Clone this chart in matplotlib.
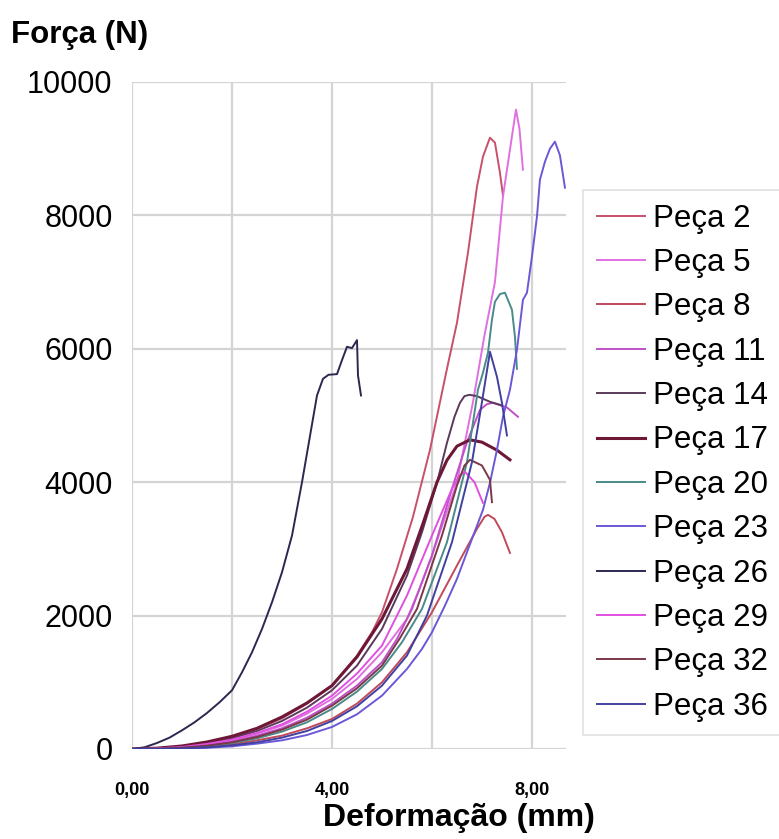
import matplotlib.pyplot as plt
from matplotlib.ticker import FixedLocator

plt.rcParams['font.family'] = ['Liberation Sans', 'DejaVu Sans']

# deformation (mm) / force (N), one pair per specimen
p2_x = [0, 0.5, 1, 1.5, 2, 2.5, 3, 3.5, 4, 4.5, 4.8, 5.0, 5.3, 5.62, 5.96, 6.3, 6.5, 6.72, 6.9, 7.02, 7.16, 7.26, 7.36, 7.42]
p2_f = [0, 10, 40, 100, 190, 300, 460, 680, 950, 1400, 1750, 2050, 2700, 3480, 4485, 5700, 6390, 7440, 8430, 8880, 9165, 9090, 8640, 8300]

p5_x = [0, 0.5, 1, 1.5, 2, 2.5, 3, 3.5, 4, 4.5, 5, 5.5, 5.75, 6.0, 6.25, 6.5, 6.82, 7.05, 7.26, 7.42, 7.56, 7.68, 7.75, 7.82]
p5_f = [0, 5, 25, 70, 130, 230, 350, 530, 750, 1050, 1450, 1950, 2400, 2900, 3450, 4000, 5200, 6200, 7000, 8280, 8985, 9585, 9300, 8685]

p8_x = [0, 0.5, 1, 1.5, 2, 2.5, 3, 3.5, 4, 4.5, 5, 5.5, 6.0, 6.5, 6.9, 7.05, 7.12, 7.25, 7.4, 7.56]
p8_f = [0, 2, 10, 35, 70, 130, 200, 310, 450, 680, 1000, 1450, 2050, 2750, 3300, 3480, 3510, 3450, 3250, 2940]

p11_x = [0, 0.5, 1, 1.5, 2, 2.5, 3, 3.5, 4, 4.5, 5, 5.3, 5.6, 6.0, 6.4, 6.7, 6.96, 7.1, 7.22, 7.5, 7.72]
p11_f = [0, 5, 20, 55, 110, 200, 310, 470, 680, 950, 1300, 1650, 2100, 2900, 3900, 4600, 5085, 5170, 5190, 5120, 4980]

p14_x = [0, 0.5, 1, 1.5, 2, 2.5, 3, 3.5, 4, 4.5, 5, 5.5, 5.8, 6.1, 6.3, 6.45, 6.56, 6.65, 6.75, 6.9, 7.16, 7.4]
p14_f = [0, 10, 35, 85, 160, 270, 420, 620, 880, 1250, 1800, 2600, 3250, 3990, 4590, 4980, 5190, 5290, 5310, 5290, 5205, 5150]

p17_x = [0, 0.5, 1, 1.5, 2, 2.5, 3, 3.5, 4, 4.5, 5, 5.5, 5.82, 6.1, 6.3, 6.5, 6.76, 7.0, 7.3, 7.56]
p17_f = [0, 12, 45, 105, 190, 310, 480, 690, 950, 1380, 1950, 2700, 3380, 4000, 4330, 4540, 4635, 4600, 4480, 4335]

p20_x = [0, 0.5, 1, 1.5, 2, 2.5, 3, 3.5, 4, 4.5, 5, 5.4, 5.8, 6.3, 6.7, 6.92, 7.02, 7.12, 7.2, 7.26, 7.36, 7.46, 7.6, 7.66, 7.7]
p20_f = [0, 3, 15, 45, 90, 160, 260, 400, 600, 860, 1200, 1600, 2100, 3100, 4300, 5385, 5640, 5940, 6435, 6705, 6820, 6840, 6585, 6180, 5700]

p23_x = [0, 0.5, 1, 1.5, 2, 2.5, 3, 3.5, 4, 4.5, 5, 5.5, 5.8, 6.0, 6.26, 6.5, 6.7, 7.02, 7.16, 7.3, 7.42, 7.56,
         7.7, 7.82, 7.9, 8.0, 8.1, 8.16, 8.26, 8.36, 8.46, 8.56, 8.66]
p23_f = [0, 1, 5, 18, 40, 80, 130, 210, 330, 520, 800, 1200, 1500, 1750, 2150, 2550, 2950, 3585, 3990, 4485, 4980, 5385,
         5985, 6735, 6840, 7380, 7980, 8535, 8805, 9000, 9105, 8900, 8415]

p26_x = [0, 0.25, 0.5, 0.75, 1.0, 1.25, 1.5, 1.75, 2.0, 2.2, 2.4, 2.6, 2.8, 3.0, 3.2, 3.4, 3.55, 3.7, 3.82,
         3.93, 4.1, 4.2, 4.3, 4.4, 4.5, 4.52, 4.58]
p26_f = [0, 25, 90, 170, 280, 400, 540, 700, 880, 1150, 1450, 1800, 2200, 2650, 3200, 4000, 4650, 5300, 5550,
         5610, 5620, 5830, 6030, 6010, 6130, 5600, 5300]

p29_x = [0, 0.5, 1, 1.5, 2, 2.5, 3, 3.5, 4, 4.5, 5, 5.5, 6.0, 6.4, 6.55, 6.66, 6.85, 7.02]
p29_f = [0, 8, 30, 75, 140, 240, 370, 560, 800, 1130, 1550, 2300, 3200, 3900, 4100, 4155, 4000, 3690]

p32_x = [0, 0.5, 1, 1.5, 2, 2.5, 3, 3.5, 4, 4.5, 5, 5.35, 5.7, 6.2, 6.5, 6.65, 6.76, 7.0, 7.16, 7.2]
p32_f = [0, 5, 20, 50, 100, 180, 290, 440, 650, 910, 1250, 1650, 2100, 3200, 3950, 4250, 4335, 4250, 4035, 3700]

p36_x = [0, 0.5, 1, 1.5, 2, 2.5, 3, 3.5, 4, 4.5, 5, 5.5, 5.9, 6.4, 6.8, 7.0, 7.16, 7.3, 7.4, 7.5]
p36_f = [0, 2, 8, 25, 55, 100, 170, 270, 420, 640, 950, 1400, 2000, 3100, 4300, 5200, 5955, 5580, 5190, 4700]

labels = ["Peça 2", "Peça 5", "Peça 8", "Peça 11", "Peça 14", "Peça 17",
          "Peça 20", "Peça 23", "Peça 26", "Peça 29", "Peça 32", "Peça 36"]
series = [(p2_x, p2_f), (p5_x, p5_f), (p8_x, p8_f), (p11_x, p11_f), (p14_x, p14_f), (p17_x, p17_f),
          (p20_x, p20_f), (p23_x, p23_f), (p26_x, p26_f), (p29_x, p29_f), (p32_x, p32_f), (p36_x, p36_f)]
colors = ["#c8506a", "#e070e0", "#c04a5a", "#c050c8", "#5a3a5a", "#6e1838",
          "#4a8a88", "#6a58d8", "#2a2850", "#e050e0", "#7a3848", "#4040a0"]
widths = [1.4, 1.4, 1.4, 1.4, 1.4, 2.2, 1.4, 1.4, 1.4, 1.4, 1.4, 1.4]

x_major = [0, 4, 8]
x_minor = [2, 6]
x_ticklabels = ["0,00", "4,00", "8,00"]
y_ticks = [0, 2000, 4000, 6000, 8000, 10000]

fig = plt.figure(figsize=(7.79, 8.39), dpi=100)
ax = fig.add_axes([0.1695, 0.1073, 0.557, 0.795])

for (xs, fs), lab, c, w in zip(series, labels, colors, widths):
    ax.plot(xs, fs, color=c, lw=w, label=lab)

ax.set_xlim(0, 8.68)
ax.set_ylim(0, 10000)
ax.xaxis.set_major_locator(FixedLocator(x_major))
ax.xaxis.set_minor_locator(FixedLocator(x_minor))
ax.set_xticklabels(x_ticklabels, fontsize=13, fontweight="bold")
ax.set_yticks(y_ticks)
ax.set_yticklabels([str(v) for v in y_ticks], fontsize=22)
ax.tick_params(which="both", length=0)
ax.tick_params(axis="x", pad=24)
ax.tick_params(axis="y", pad=14)
ax.grid(True, which="both", color="#d4d4d4", lw=1.6)
ax.set_axisbelow(True)
for s in ax.spines.values():
    s.set_visible(False)

fig.text(0.014, 0.958, "Força (N)", fontsize=22.5, fontweight="bold", va="center", ha="left")
fig.text(0.589, 0.025, "Deformação (mm)", fontsize=23, fontweight="bold", va="center", ha="center")

leg = fig.legend(loc="upper left", bbox_to_anchor=(0.749, 0.773), fontsize=22.5, frameon=True,
                 fancybox=False, edgecolor="#d8d8d8", handlelength=1.55, handletextpad=0.26,
                 labelspacing=0.46, borderpad=0.42, borderaxespad=0)
leg.get_frame().set_linewidth(1.2)

fig.savefig("out.png", dpi=100)
